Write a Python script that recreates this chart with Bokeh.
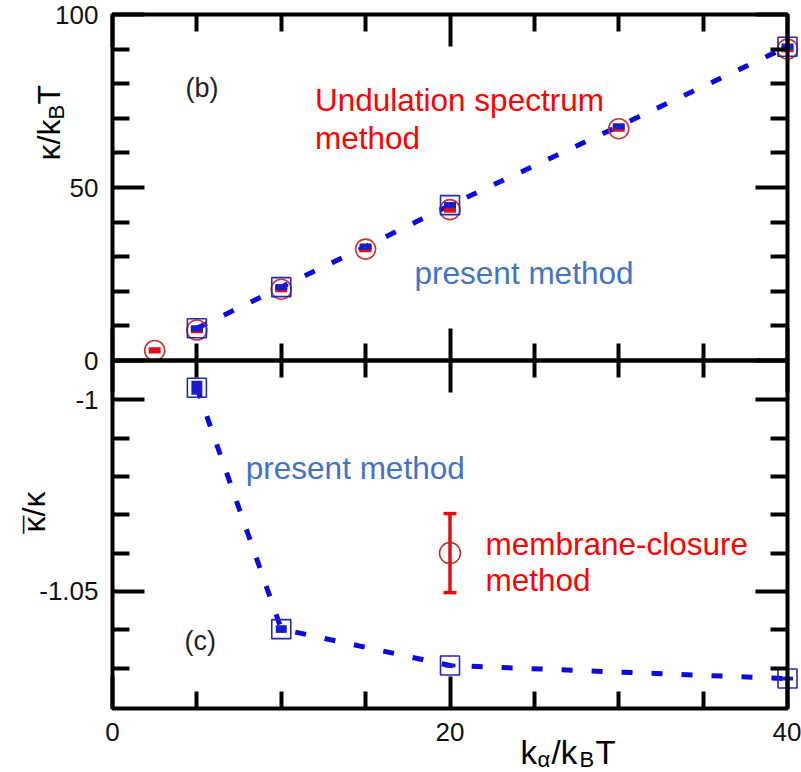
from math import pi

from bokeh.embed import file_html
from bokeh.models import (BoxAnnotation, ColumnDataSource, FixedTicker, Label,
                          LinearAxis, Range1d, TeeHead, Whisker)
from bokeh.plotting import figure
from bokeh.resources import INLINE

FONT = "Liberation Sans"
RED_TEXT = "#ff0000"
BLUE_TEXT = "#4472c4"
LINE_BLUE = "#0a0adc"
SQUARE_BLUE = "#2626b8"
CIRCLE_RED = "#cc3333"

# page geometry (pixels from the top-left corner of the page)
W, H = 801, 772
LEFT, RIGHT = 112, 787          # left / right edges of both panels
TOP_Y0, MID_Y, BOT_Y1 = 14, 360, 708

# ---- panel (b): bending rigidity kappa/kBT versus k_alpha/kBT ----
und_x = [2.5, 5, 10, 15, 20, 30, 40]            # undulation spectrum method
und_kappa = [2.9, 8.8, 20.6, 32.2, 43.6, 67.0, 90.0]
und_err = [0.9, 0.9, 0.9, 0.9, 0.9, 0.9, 0.9]

pres_x = [5, 10, 15, 20, 30, 40]                # present method
pres_kappa = [9.3, 21.2, 32.9, 44.9, 67.7, 90.7]
pres_err = [0.9, 0.9, 0.9, 0.9, 0.9, 0.9]
square_x = [5, 10, 20, 40]                      # points marked with squares

# ---- panel (c): saddle-splay ratio kappa_bar/kappa ----
ratio_x = [5, 10, 20, 40]
ratio = [-0.9969, -1.0598, -1.0693, -1.0727]
ratio_err = [0.0018, 0.0010, 0.0005, 0.0005]

closure_x = [20]                                # membrane-closure method
closure = [-1.0400]
closure_err = [0.0103]

X_LIM = (0, 40)
KAPPA_LIM = (0, 100)
RATIO_LIM = (-1.0805, -0.9898)

X_TICKS = [0, 20, 40]
X_MINOR = [5, 10, 15, 25, 30, 35]
KAPPA_TICKS = [0, 50, 100]
KAPPA_MINOR = [10, 20, 30, 40, 60, 70, 80, 90]
RATIO_TICKS = [-1.05, -1.0]
RATIO_MINOR = [-1.07, -1.06, -1.04, -1.03, -1.02, -1.01]


def page_range(lo, hi, px_lo, px_hi, px_start, px_end):
    """Range whose ends fall on page pixels px_start/px_end, given that the
    values lo/hi sit at pixels px_lo/px_hi."""
    per_px = (hi - lo) / (px_hi - px_lo)
    return Range1d(lo + (px_start - px_lo) * per_px,
                   lo + (px_end - px_lo) * per_px)


# one canvas-wide frame; each panel gets its own y scale
x_range = page_range(X_LIM[0], X_LIM[1], LEFT, RIGHT, 0, W)
kappa_range = page_range(KAPPA_LIM[0], KAPPA_LIM[1], MID_Y, TOP_Y0, H, 0)
ratio_range = page_range(RATIO_LIM[0], RATIO_LIM[1], BOT_Y1, MID_Y, H, 0)

p = figure(width=W, height=H, x_range=x_range, y_range=kappa_range,
           x_axis_type=None, y_axis_type=None, min_border=0,
           output_backend="svg", toolbar_location=None)
p.extra_y_ranges = {"ratio": ratio_range, "py": Range1d(H, 0)}
p.extra_x_ranges = {"px": Range1d(0, W)}
p.outline_line_color = None
p.background_fill_color = "white"
p.border_fill_color = "white"


def add_axis(side, loc, ticks, minor, y_name="default", show_labels=False,
             overrides=None, both_ways=False):
    ax = LinearAxis(ticker=FixedTicker(ticks=ticks, minor_ticks=minor),
                    fixed_location=loc, y_range_name=y_name)
    ax.axis_line_color = None
    ax.major_tick_in = 32
    ax.major_tick_out = 32 if both_ways else 0
    ax.minor_tick_in = 17
    ax.minor_tick_out = 17 if both_ways else 0
    ax.major_tick_line_width = 4
    ax.minor_tick_line_width = 4
    ax.major_tick_line_color = "black"
    ax.minor_tick_line_color = "black"
    if show_labels:
        ax.major_label_text_font = FONT
        ax.major_label_text_font_size = "26px"
        ax.major_label_text_color = "#111111"
        ax.major_label_standoff = 14
        if overrides:
            ax.major_label_overrides = overrides
    else:
        ax.major_label_text_color = None
        ax.major_label_standoff = 0
    p.add_layout(ax, side)


def label(x, y, s, size, color="black", angle=0.0, align="left",
          baseline="alphabetic", x_name="default", y_name="default"):
    p.add_layout(Label(x=x, y=y, text=s, text_font=FONT,
                       text_font_size=size, text_color=color,
                       text_align=align, text_baseline=baseline,
                       angle=angle, x_range_name=x_name,
                       y_range_name=y_name))


# panel frames
for y_lim, y_name in ((KAPPA_LIM, "default"), (RATIO_LIM, "ratio")):
    p.add_layout(BoxAnnotation(left=X_LIM[0], right=X_LIM[1],
                               bottom=y_lim[0], top=y_lim[1],
                               y_range_name=y_name, fill_color=None,
                               line_color="black", line_alpha=1.0,
                               line_width=4))

# panel (b) axes
add_axis("left", X_LIM[0], KAPPA_TICKS, KAPPA_MINOR, show_labels=True)
add_axis("right", X_LIM[1], KAPPA_TICKS, KAPPA_MINOR)
add_axis("above", KAPPA_LIM[1], X_TICKS, X_MINOR)
# shared edge: ticks point into both panels
add_axis("below", KAPPA_LIM[0], X_TICKS, X_MINOR, both_ways=True)

# panel (c) axes
add_axis("left", X_LIM[0], RATIO_TICKS, RATIO_MINOR, y_name="ratio",
         show_labels=True, overrides={-1.05: "-1.05", -1.0: "-1"})
add_axis("right", X_LIM[1], RATIO_TICKS, RATIO_MINOR, y_name="ratio")
add_axis("below", RATIO_LIM[0], X_TICKS, X_MINOR, y_name="ratio",
         show_labels=True)

# ---- panel (b) data ----
p.line(pres_x, pres_kappa, line_color=LINE_BLUE, line_width=5,
       line_dash="11 19")
p.scatter(und_x, und_kappa, marker="circle", size=20, fill_color=None,
          line_color=CIRCLE_RED, line_width=1.6)
sq_lookup = dict(zip(pres_x, pres_kappa))
p.scatter(square_x, [sq_lookup[x] for x in square_x], marker="square",
          size=19, fill_color=None, line_color=SQUARE_BLUE, line_width=1.6)
p.rect(und_x, und_kappa, width=12, height=[2 * e for e in und_err],
       width_units="screen", fill_color="#e01010", line_color=None)
p.rect(pres_x, pres_kappa, width=12, height=[2 * e for e in pres_err],
       width_units="screen", fill_color="#1a1ad0", line_color=None)

label(5.3, 78.9, "(b)", "27px", color="#222222", align="center",
      baseline="middle")
label(12.0, 75.4, "Undulation spectrum", "31.5px", RED_TEXT)
label(12.0, 64.4, "method", "31.5px", RED_TEXT)
label(17.9, 25.4, "present method", "31.5px", BLUE_TEXT)

# ---- panel (c) data ----
p.line(ratio_x, ratio, y_range_name="ratio", line_color=LINE_BLUE,
       line_width=5, line_dash="11 19")
p.scatter(ratio_x, ratio, y_range_name="ratio", marker="square", size=19,
          fill_color=None, line_color=SQUARE_BLUE, line_width=1.6)
p.rect(ratio_x, ratio, y_range_name="ratio", width=11,
       height=[2 * e for e in ratio_err], width_units="screen",
       fill_color="#1a1ad0", line_color=None)

closure_src = ColumnDataSource(dict(
    x=closure_x,
    y=closure,
    upper=[v + e for v, e in zip(closure, closure_err)],
    lower=[v - e for v, e in zip(closure, closure_err)],
))
p.scatter("x", "y", source=closure_src, y_range_name="ratio",
          marker="circle", size=21, fill_color=None, line_color="#b83030",
          line_width=1.5)
whisk = Whisker(source=closure_src, base="x", upper="upper", lower="lower",
                dimension="height", y_range_name="ratio",
                line_color="#dd1111", line_width=3.5,
                upper_head=TeeHead(size=13, line_color="#dd1111",
                                   line_width=3.5),
                lower_head=TeeHead(size=13, line_color="#dd1111",
                                   line_width=3.5))
whisk.level = "overlay"
p.add_layout(whisk)

label(7.9, -1.0177, "present method", "31.5px", BLUE_TEXT, y_name="ratio")
label(22.1, -1.0375, "membrane-closure", "31.5px", RED_TEXT, y_name="ratio")
label(22.1, -1.0471, "method", "31.5px", RED_TEXT, y_name="ratio")
label(5.2, -1.063, "(c)", "27px", color="#222222", align="center",
      baseline="middle", y_name="ratio")

# ---- axis titles, placed in page pixels ----
UP = pi / 2
PX = dict(x_name="px", y_name="py")
# kappa / k_B T
label(48, 160, "κ/k", "32px", angle=UP, **PX)
label(56, 119, "B", "22px", angle=UP, **PX)
label(48, 104, "T", "32px", angle=UP, **PX)
# kappa_bar / kappa : bar drawn over the first kappa
label(33, 532, "κ/κ", "32px", angle=UP, **PX)
label(35, 533, "¯", "32px", angle=UP, **PX)
# k_alpha / k_B T
label(520, 752, "k", "33px", **PX)
label(537, 759, "α", "22px", **PX)
label(551, 752, "/k", "33px", **PX)
label(579, 759, "B", "22px", **PX)
label(595, 752, "T", "33px", **PX)

open("out.html", "w").write(file_html(p, INLINE))
